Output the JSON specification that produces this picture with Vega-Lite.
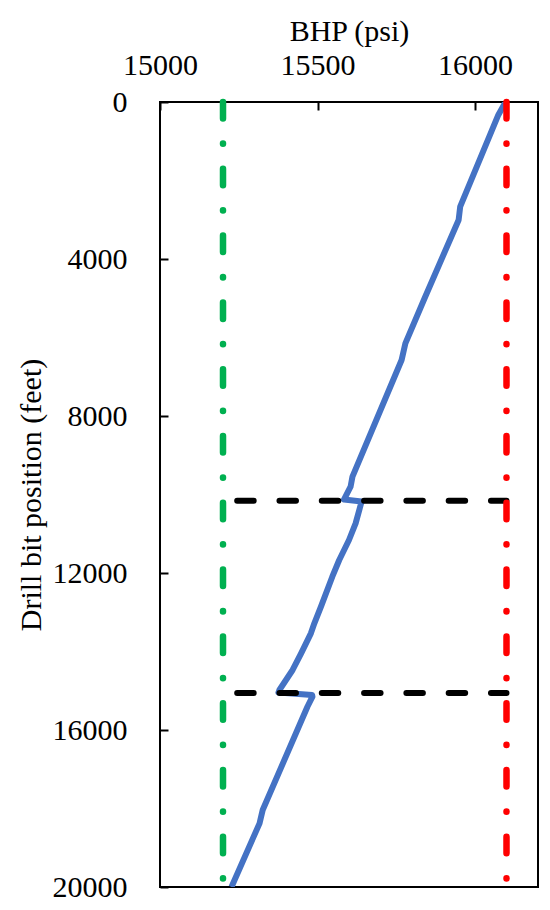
{
  "$schema": "https://vega.github.io/schema/vega-lite/v6.json",
  "width": 378,
  "height": 785,
  "autosize": {"type": "none"},
  "padding": {"left": 160, "top": 102, "right": 12, "bottom": 23},
  "background": "white",
  "config": {
    "view": {"stroke": "black", "strokeWidth": 2},
    "axis": {"grid": false, "domain": false, "labelFlush": false, "labelOverlap": false,
      "labelFont": "Liberation Serif", "titleFont": "Liberation Serif", "labelFontSize": 30, "titleFontSize": 30, "titleFontWeight": "normal",
      "labelColor": "black", "titleColor": "black", "tickColor": "black", "tickWidth": 2, "tickSize": -8}
  },
  "datasets": {
    "curve": [
      {"depth": 0, "bhp": 16097},
      {"depth": 330, "bhp": 16074},
      {"depth": 2667, "bhp": 15953},
      {"depth": 3006, "bhp": 15948},
      {"depth": 4960, "bhp": 15842},
      {"depth": 6148, "bhp": 15779},
      {"depth": 6573, "bhp": 15767},
      {"depth": 9546, "bhp": 15611},
      {"depth": 9801, "bhp": 15605},
      {"depth": 10130, "bhp": 15584},
      {"depth": 10180, "bhp": 15640},
      {"depth": 10736, "bhp": 15621},
      {"depth": 11159, "bhp": 15600},
      {"depth": 11669, "bhp": 15569},
      {"depth": 12094, "bhp": 15547},
      {"depth": 12858, "bhp": 15511},
      {"depth": 13282, "bhp": 15490},
      {"depth": 13537, "bhp": 15479},
      {"depth": 14047, "bhp": 15448},
      {"depth": 14471, "bhp": 15421},
      {"depth": 14981, "bhp": 15379},
      {"depth": 15045, "bhp": 15376},
      {"depth": 15108, "bhp": 15483},
      {"depth": 15152, "bhp": 15484},
      {"depth": 15407, "bhp": 15468},
      {"depth": 18038, "bhp": 15326},
      {"depth": 18378, "bhp": 15316},
      {"depth": 20000, "bhp": 15227}
    ],
    "limits": [
      {"bhp": 15200, "kind": "lower"},
      {"bhp": 16100, "kind": "upper"}
    ],
    "markers": [
      {"depth": 10160, "from": 15245, "to": 16100},
      {"depth": 15060, "from": 15245, "to": 16100}
    ]
  },
  "layer": [
    {
      "data": {"name": "curve"},
      "mark": {"type": "line", "color": "#4472C4", "strokeWidth": 6, "strokeJoin": "round", "strokeCap": "butt", "clip": true},
      "encoding": {
        "x": {"field": "bhp", "type": "quantitative", "scale": {"domain": [15000, 16200], "nice": false, "zero": false},
          "axis": {"orient": "top", "title": "BHP (psi)", "values": [15000, 15500, 16000], "format": "d", "labelPadding": 30, "titlePadding": 4}},
        "y": {"field": "depth", "type": "quantitative", "scale": {"domain": [0, 20000], "reverse": true, "nice": false},
          "axis": {"title": "Drill bit position (feet)", "values": [0, 4000, 8000, 12000, 16000, 20000], "format": "d", "labelPadding": 41, "titlePadding": 6}},
        "order": {"field": "depth", "type": "quantitative"}
      }
    },
    {
      "data": {"name": "markers"},
      "mark": {"type": "rule", "color": "black", "strokeWidth": 6, "strokeCap": "round", "strokeDash": [16.5, 25.8]},
      "encoding": {
        "x": {"field": "from", "type": "quantitative"},
        "x2": {"field": "to"},
        "y": {"field": "depth", "type": "quantitative"}
      }
    },
    {
      "data": {"name": "limits"},
      "mark": {"type": "rule", "strokeWidth": 6.5, "strokeCap": "round", "strokeDash": [16.5, 25, 0.3, 25]},
      "encoding": {
        "x": {"field": "bhp", "type": "quantitative"},
        "color": {"field": "kind", "type": "nominal", "scale": {"domain": ["lower", "upper"], "range": ["#00B050", "#FF0000"]}, "legend": null}
      }
    }
  ]
}
